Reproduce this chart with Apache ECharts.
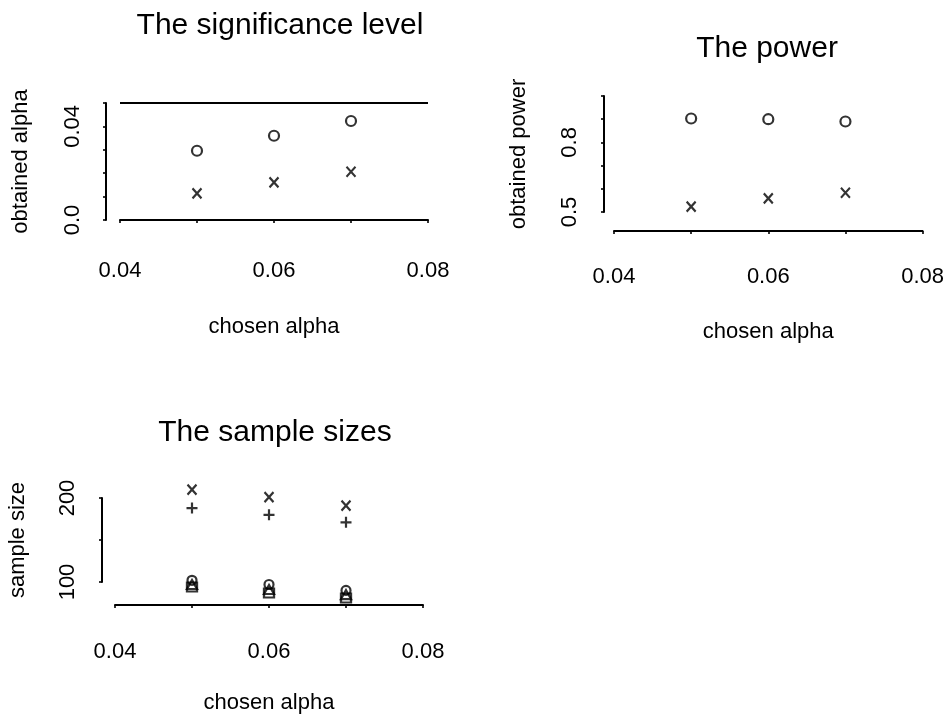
<!DOCTYPE html>
<html>
<head>
<meta charset="utf-8">
<title>Alpha, power and sample size</title>
<script src="https://cdn.jsdelivr.net/npm/echarts@6/dist/echarts.min.js"></script>
<style>
  html, body { margin: 0; padding: 0; background: #fff; }
  #chart { width: 947px; height: 715px; }
</style>
</head>
<body>
<div id="chart"></div>
<script>
// Chosen significance levels (x positions shared by all three panels)
const chosenAlpha = [0.05, 0.06, 0.07];

// Panel 1: obtained significance level
const alphaO = [0.0296, 0.0360, 0.0423];
const alphaX = [0.0114, 0.0161, 0.0206];
const nominalAlpha = 0.05;

// Panel 2: obtained power
const powerO = [0.903, 0.900, 0.890];
const powerX = [0.523, 0.559, 0.583];

// Panel 3: sample sizes
const sizeX = [210, 201, 191];
const sizePlus = [188, 180, 171];
const sizeCircle = [102, 97, 90];
const sizeTriangle = [97, 91, 85];
const sizeSquare = [94, 87, 81];

// Tick labels (only these ticks carry text)
const xLabelValues = [0.04, 0.06, 0.08];
const xLabelText = ['0.04', '0.06', '0.08'];
const alphaLabelValues = [0, 0.04];
const alphaLabelText = ['0.0', '0.04'];
const powerLabelValues = [0.5, 0.8];
const powerLabelText = ['0.5', '0.8'];
const sizeLabelValues = [100, 200];
const sizeLabelText = ['100', '200'];

const FONT = 'Liberation Sans, Arial, Helvetica, sans-serif';
const INK = '#000';
const FS = 22;

function pick(values, texts) {
  return function (v) {
    const i = values.findIndex(t => Math.abs(t - v) < 1e-9);
    return i >= 0 ? texts[i] : '';
  };
}

const SYM_X = 'path://M0,0L10,10M10,0L0,10';
const SYM_PLUS = 'path://M5,0L5,10M0,5L10,5';
const SYM_TRI = 'path://M5,0L10,9L0,9Z';
const SYM_SQ = 'path://M0,0L10,0L10,10L0,10Z';

function pts(ys) { return chosenAlpha.map((x, i) => [x, ys[i]]); }

function marks(idx, ys, symbol, size) {
  return {
    type: 'scatter',
    xAxisIndex: idx, yAxisIndex: idx,
    data: pts(ys),
    symbol: symbol,
    symbolSize: size,
    clip: false,
    silent: true,
    itemStyle: { color: 'rgba(0,0,0,0)', borderColor: INK, borderWidth: 2.2 }
  };
}

const axisLine = { show: true, lineStyle: { color: INK, width: 2 } };
const axisTick = { show: true, length: 3, lineStyle: { color: INK, width: 1.6 } };

function xAx(idx, offset, margin, nameGap) {
  return {
    type: 'value', gridIndex: idx,
    min: 0.04, max: 0.08, interval: 0.01,
    offset: offset,
    axisLine: axisLine, axisTick: axisTick,
    splitLine: { show: false },
    axisLabel: { interval: 0, margin: margin, color: INK, fontFamily: FONT, fontSize: FS,
                 formatter: pick(xLabelValues, xLabelText) },
    name: 'chosen alpha', nameLocation: 'middle', nameGap: nameGap,
    nameTextStyle: { color: INK, fontFamily: FONT, fontSize: FS }
  };
}

function yAx(idx, min, max, interval, vals, texts, name, offset, margin, nameGap) {
  return {
    type: 'value', gridIndex: idx,
    min: min, max: max, interval: interval,
    offset: offset,
    axisLine: axisLine, axisTick: axisTick,
    splitLine: { show: false },
    axisLabel: { interval: 0, rotate: 90, margin: margin, color: INK, fontFamily: FONT, fontSize: FS,
                 formatter: pick(vals, texts) },
    name: name, nameLocation: 'middle', nameGap: nameGap, nameRotate: 90,
    nameTextStyle: { color: INK, fontFamily: FONT, fontSize: FS }
  };
}

const titleStyle = { color: INK, fontFamily: FONT, fontSize: 30, fontWeight: 'normal' };

const option = {
  backgroundColor: '#fff',
  animation: false,
  title: [
    { text: 'The significance level', left: 275, top: 6, textAlign: 'center', textStyle: titleStyle },
    { text: 'The power', left: 762, top: 29, textAlign: 'center', textStyle: titleStyle },
    { text: 'The sample sizes', left: 270, top: 413, textAlign: 'center', textStyle: titleStyle }
  ],
  grid: [
    { left: 120, top: 103, width: 308, height: 117 },
    { left: 614, top: 96, width: 310, height: 116 },
    { left: 115, top: 498, width: 308, height: 85 }
  ],
  xAxis: [
    xAx(0, 6, 34, 90),
    xAx(1, 19, 35, 90),
    xAx(2, 23, 36, 87)
  ],
  yAxis: [
    yAx(0, 0, 0.05, 0.01, alphaLabelValues, alphaLabelText, 'obtained alpha', 14, 22, 74),
    yAx(1, 0.5, 1.0, 0.1, powerLabelValues, powerLabelText, 'obtained power', 10, 23, 74),
    yAx(2, 100, 200, 50, sizeLabelValues, sizeLabelText, 'sample size', 13, 23, 73)
  ],
  series: [
    Object.assign(marks(0, alphaO, 'circle', 10), {
      markLine: {
        silent: true, symbol: 'none', label: { show: false },
        lineStyle: { color: INK, width: 2, type: 'solid' },
        data: [[{ coord: [0.04, nominalAlpha] }, { coord: [0.08, nominalAlpha] }]]
      }
    }),
    marks(0, alphaX, SYM_X, [9, 10]),
    marks(1, powerO, 'circle', 10),
    marks(1, powerX, SYM_X, [9, 10]),
    marks(2, sizeX, SYM_X, [9, 10]),
    marks(2, sizePlus, SYM_PLUS, [11, 11]),
    marks(2, sizeCircle, 'circle', 9),
    marks(2, sizeTriangle, SYM_TRI, [10, 9]),
    marks(2, sizeSquare, SYM_SQ, [10, 9])
  ]
};

echarts.init(document.getElementById('chart'), null, { renderer: 'canvas' }).setOption(option);
</script>
</body>
</html>
